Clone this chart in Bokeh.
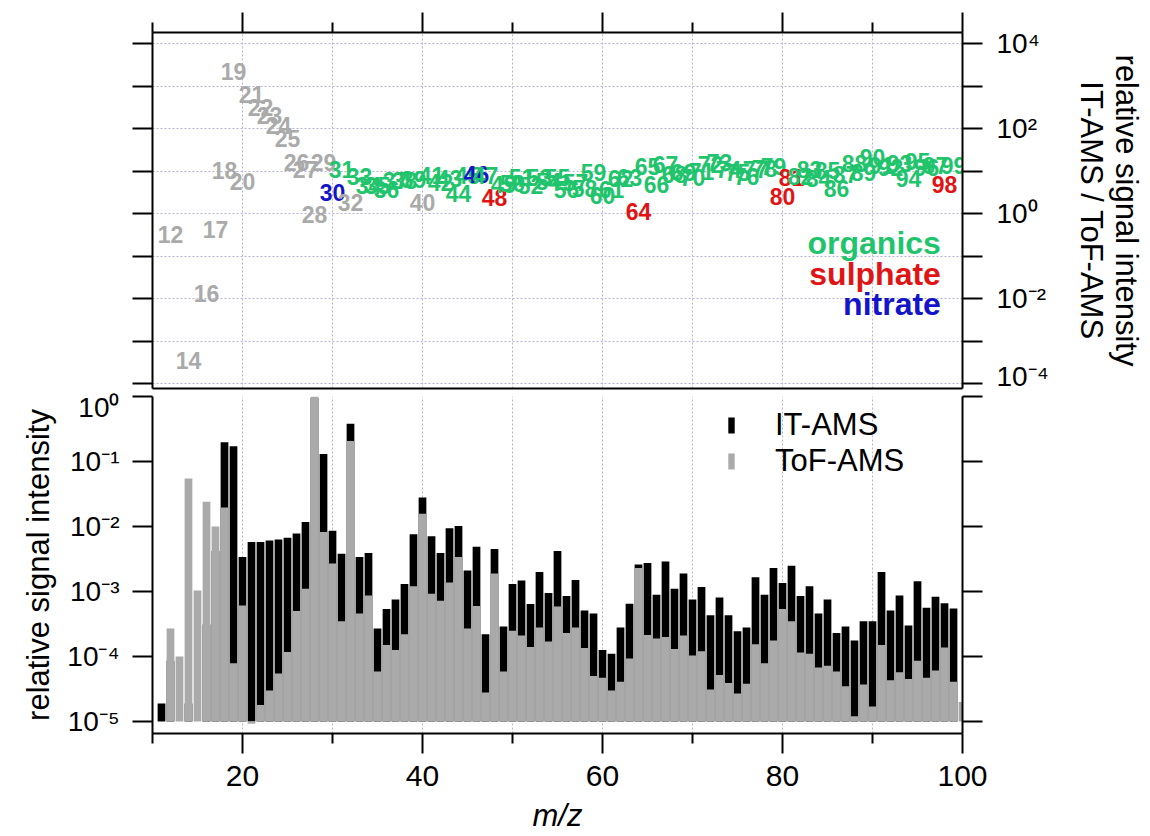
import math
from bokeh.plotting import figure
from bokeh.models import (Range1d, LogAxis, LinearAxis, FixedTicker, CustomJSTickFormatter,
                          ColumnDataSource, Legend, LegendItem)
from bokeh.layouts import column
from bokeh.embed import file_html
from bokeh.resources import INLINE
from bokeh.core.properties import value

N = None
# m/z values
mz = list(range(11, 101))
# relative signal intensity, IT-AMS (black bars)
it_ams = [1.9e-5, 8.6e-5, N, 1.9e-5, N, 3.1e-4, 4.2e-3, 0.198, 0.172, 3.4e-3,
          5.8e-3, 5.75e-3, 6.1e-3, 6.3e-3, 6.7e-3, 7.8e-3, 0.0117, 0.95, 0.131, 8.6e-3,
          3.8e-3, 0.38, 3.4e-3, 3.9e-3, 2.7e-4, 5.4e-4, 7.5e-4, 1.3e-3, 7.6e-3, 0.028,
          7.1e-3, 3.9e-3, 9.4e-3, 0.0102, 2.1e-3, 4.9e-3, 2.2e-4, 4.5e-3, 2.9e-4, 1.3e-3,
          1.48e-3, 6.4e-4, 2.0e-3, 9.5e-4, 4.2e-3, 8.5e-4, 1.5e-3, 5.1e-4, 4.6e-4, 1.26e-4,
          1.1e-4, 2.8e-4, 6.5e-4, 2.6e-3, 2.75e-3, 8.9e-4, 2.9e-3, 1.1e-3, 1.9e-3, 7.5e-4,
          1.17e-3, 4.3e-4, 8.1e-4, 4.3e-4, 2.45e-4, 2.8e-4, 1.66e-3, 8.9e-4, 2.3e-3, 1.35e-3,
          2.5e-3, 8.5e-4, 1.2e-3, 4.6e-4, 7.5e-4, 2.3e-4, 2.9e-4, 1.77e-4, 3.5e-4, 3.5e-4,
          2.0e-3, 5.1e-4, 8.7e-4, 3.0e-4, 1.44e-3, 5.6e-4, 8.3e-4, 6.6e-4, 5.5e-4, N]
# relative signal intensity, ToF-AMS (grey bars)
tof_ams = [N, 2.7e-4, 1.0e-4, 0.055, 1.04e-3, 0.024, 0.010, 0.0196, 7.9e-5, 6.1e-4,
           9.2e-6, 1.8e-5, 3.0e-5, 5.5e-5, 1.17e-4, 5.0e-4, 1.1e-3, 1.0, 8.2e-3, 2.7e-3,
           3.5e-4, 0.206, 4.6e-4, 8.7e-4, 5.9e-5, 1.5e-4, 1.26e-4, 2.2e-4, 1.2e-3, 0.0157,
           9.2e-4, 7.2e-4, 1.38e-3, 3.4e-3, 2.7e-4, 6.0e-4, 2.8e-5, 1.9e-3, 5.9e-5, 2.5e-4,
           2.1e-4, 1.4e-4, 2.8e-4, 1.7e-4, 5.9e-4, 2.3e-4, 2.8e-4, 1.35e-4, 5.0e-5, 4.7e-5,
           3.0e-5, 4.1e-5, 9.3e-5, 2.3e-3, 2.15e-4, 1.9e-4, 2.0e-4, 1.3e-4, 2.1e-4, 1.04e-4,
           1.2e-4, 3.1e-5, 5.2e-5, 3.9e-5, 2.7e-5, 3.8e-5, 1.55e-4, 7.9e-5, 1.77e-4, 5.4e-4,
           3.5e-4, 1.15e-4, 1.1e-4, 6.8e-5, 7.2e-5, 5.9e-5, 3.5e-5, 1.2e-5, 3.7e-5, 1.7e-5,
           1.5e-4, 4.3e-5, 5.7e-5, 4.5e-5, 8.6e-5, 4.7e-5, 6.1e-5, 1.38e-4, 4.1e-5, 2.0e-5]
# ion classes for label colours
air_ions = [12, 14, 16, 17, 18, 19, 20, 21, 22, 23, 24, 25, 26, 27, 28, 29, 32, 40]
nitrate_ions = [30, 46]
sulphate_ions = [48, 64, 80, 81, 98]
class_names = ["organics", "sulphate", "nitrate"]

FONT = "Liberation Sans"
C_GREEN = "#1fc46c"
C_RED = "#e01414"
C_BLUE = "#1414c8"
C_AIR = "#aaaaaa"
C_BAR_GREY = "#aaaaaa"
GRID_C = "#b4b4d8"

nan = float("nan")
src = ColumnDataSource(dict(
    mz=mz,
    it=[nan if v is None else v for v in it_ams],
    tof=[nan if v is None else v for v in tof_ams],
))

lab = dict(x=[], y=[], t=[], c=[])
for m, a, b in zip(mz, it_ams, tof_ams):
    if a is None or b is None:
        continue
    lab["x"].append(m)
    lab["y"].append(a / b)
    lab["t"].append(str(m))
    if m in air_ions:
        col = C_AIR
    elif m in nitrate_ions:
        col = C_BLUE
    elif m in sulphate_ions:
        col = C_RED
    else:
        col = C_GREEN
    lab["c"].append(col)
lab_src = ColumnDataSource(lab)

SUP_JS = """
const sup = {'0':'\u2070','1':'\u00b9','2':'\u00b2','3':'\u00b3','4':'\u2074','5':'\u2075',
             '6':'\u2076','7':'\u2077','8':'\u2078','9':'\u2079','-':'\u207b'};
const e = Math.round(Math.log10(tick));
if (EVEN && (e % 2 != 0)) { return ''; }
return '10' + String(e).split('').map(c => sup[c]).join('');
"""
fmt_all = CustomJSTickFormatter(code=SUP_JS.replace("EVEN", "false"))
fmt_even = CustomJSTickFormatter(code=SUP_JS.replace("EVEN", "true"))
fmt_none = CustomJSTickFormatter(code="return '';")

xr = Range1d(10, 100)
grid_x = [10, 20, 30, 40, 50, 60, 70, 80, 90, 100]
top_decades = [10.0 ** k for k in range(-4, 5)]
bot_decades = [10.0 ** k for k in range(-5, 1)]

TOP_PX = 42.5
BOT_PX = 65.0


def style_axis(ax, tick_out=20, minor_out=0, size="28px"):
    ax.axis_line_width = 2
    ax.axis_line_color = "black"
    ax.major_tick_line_width = 2
    ax.major_tick_line_color = "black"
    ax.major_tick_out = tick_out
    ax.major_tick_in = 0
    ax.minor_tick_line_width = 2
    ax.minor_tick_line_color = "black" if minor_out else None
    ax.minor_tick_out = minor_out
    ax.minor_tick_in = 0
    ax.major_label_text_font = FONT
    ax.major_label_text_font_size = size
    ax.major_label_text_color = "black"
    ax.axis_label_text_font = FONT
    ax.axis_label_text_color = "black"
    ax.axis_label_text_font_style = "normal"


# ---------------- top panel: ratio ----------------
top = figure(frame_width=810, frame_height=356, x_range=xr,
             y_range=Range1d(10 ** (-4 - 5 / TOP_PX), 10 ** (4 + 11 / TOP_PX)),
             y_axis_type="log", x_axis_location="above", y_axis_location="left",
             output_backend="svg", toolbar_location=None,
             min_border_left=152, min_border_right=182, min_border_top=32, min_border_bottom=3)
top.outline_line_color = None
top.background_fill_color = "white"
top.border_fill_color = "white"

ax_top = top.xaxis[0]
style_axis(ax_top, tick_out=20, minor_out=10, size="0px")
ax_top.ticker = FixedTicker(ticks=[20, 40, 60, 80, 100], minor_ticks=[10, 30, 50, 70, 90])
ax_top.formatter = fmt_none
ax_top.major_label_standoff = 0

ax_tl = top.yaxis[0]
style_axis(ax_tl, tick_out=20, size="0px")
ax_tl.ticker = FixedTicker(ticks=top_decades)
ax_tl.formatter = fmt_none
ax_tl.major_label_standoff = 0

ax_tr = LogAxis(ticker=FixedTicker(ticks=top_decades), formatter=fmt_even)
style_axis(ax_tr, tick_out=20, size="28px")
ax_tr.major_label_standoff = 14
ax_tr.axis_label = "relative signal intensity\nIT-AMS / ToF-AMS"
ax_tr.axis_label_text_font_size = "31px"
ax_tr.axis_label_text_line_height = 1.0
ax_tr.axis_label_standoff = 22
top.add_layout(ax_tr, "right")

ax_tb = LinearAxis(ticker=FixedTicker(ticks=[]), formatter=fmt_none)
style_axis(ax_tb, tick_out=0, size="0px")
ax_tb.major_label_standoff = 0
top.add_layout(ax_tb, "below")

top.xgrid.ticker = FixedTicker(ticks=grid_x)
top.ygrid.ticker = FixedTicker(ticks=top_decades)
for g in (top.xgrid[0], top.ygrid[0]):
    g.grid_line_color = GRID_C
    g.grid_line_dash = "2 2"
    g.grid_line_width = 1

top.text(x="x", y="y", text="t", source=lab_src, text_color="c",
         text_align="center", text_baseline="middle",
         text_font=value(FONT), text_font_style="bold", text_font_size="23px")

# class legend (text entries in the top panel)
leg_y = [10 ** ((213 - 242) / TOP_PX), 10 ** ((213 - 273) / TOP_PX), 10 ** ((213 - 303) / TOP_PX)]
top.text(x=[97.6, 97.6, 97.6], y=leg_y, text=class_names,
         text_color=[C_GREEN, C_RED, C_BLUE], text_align="right", text_baseline="middle",
         text_font=value(FONT), text_font_style="bold", text_font_size="32px")

# ---------------- bottom panel: spectra ----------------
bot = figure(frame_width=810, frame_height=337, x_range=xr,
             y_range=Range1d(10 ** (-5 - 12 / BOT_PX), 1.0),
             y_axis_type="log", x_axis_location="below", y_axis_location="left",
             output_backend="svg", toolbar_location=None,
             min_border_left=152, min_border_right=182, min_border_top=5, min_border_bottom=0)
bot.outline_line_color = None
bot.background_fill_color = "white"
bot.border_fill_color = "white"

ax_bx = bot.xaxis[0]
style_axis(ax_bx, tick_out=20, minor_out=10, size="30px")
ax_bx.ticker = FixedTicker(ticks=[20, 40, 60, 80, 100], minor_ticks=[10, 30, 50, 70, 90])
ax_bx.major_label_standoff = 12
ax_bx.axis_label = "m/z"
ax_bx.axis_label_text_font_size = "31px"
ax_bx.axis_label_text_font_style = "italic"
ax_bx.axis_label_standoff = 9

ax_bl = bot.yaxis[0]
style_axis(ax_bl, tick_out=20, size="28px")
ax_bl.ticker = FixedTicker(ticks=bot_decades)
ax_bl.formatter = fmt_all
ax_bl.major_label_standoff = 13
ax_bl.axis_label = "relative signal intensity"
ax_bl.axis_label_text_font_size = "31px"
ax_bl.axis_label_standoff = 8

ax_br = LogAxis(ticker=FixedTicker(ticks=bot_decades), formatter=fmt_none)
style_axis(ax_br, tick_out=20, size="0px")
ax_br.major_label_standoff = 0
bot.add_layout(ax_br, "right")

bot.xgrid.ticker = FixedTicker(ticks=grid_x)
bot.xgrid[0].grid_line_color = GRID_C
bot.xgrid[0].grid_line_dash = "2 2"
bot.ygrid[0].grid_line_color = None

r_it = bot.vbar(x="mz", top="it", bottom=1e-5, width=0.86, source=src,
                fill_color="black", line_color=None)
r_tof = bot.vbar(x="mz", top="tof", bottom=1e-5, width=0.86, source=src,
                 fill_color=C_BAR_GREY, line_color=None)

legend = Legend(items=[LegendItem(label="IT-AMS", renderers=[r_it]),
                       LegendItem(label="ToF-AMS", renderers=[r_tof])],
                location=(575, 254), glyph_width=8, glyph_height=20,
                label_standoff=40, label_text_font=FONT, label_text_font_size="31px",
                label_text_color="black", spacing=0, padding=0, margin=0,
                border_line_color=None, background_fill_alpha=0)
bot.add_layout(legend, "center")

layout = column(top, bot)
open("out.html", "w").write(file_html(layout, INLINE))
